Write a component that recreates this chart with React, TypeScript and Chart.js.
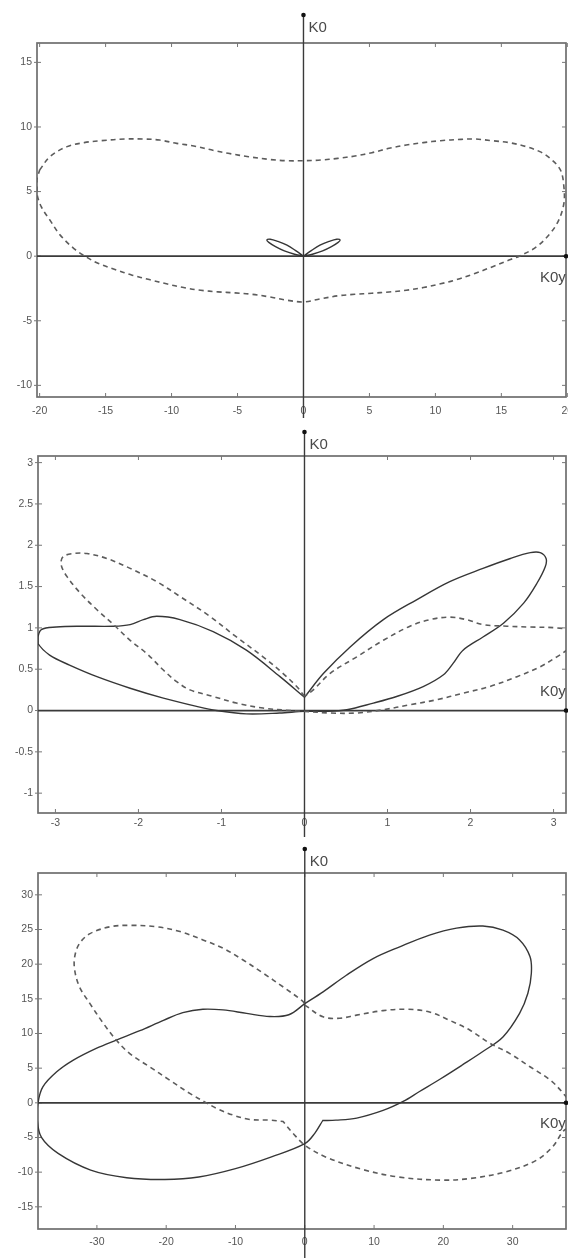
import React, { useEffect, useRef } from "react";
import { Chart, registerables } from "chart.js";

Chart.register(...registerables);

// ---------------- Panel 1 data ----------------
const P1_X_TICKS = [-20, -15, -10, -5, 0, 5, 10, 15, 20];
const P1_Y_TICKS = [-10, -5, 0, 5, 10, 15];
const P1_DASHED: [number, number][] = [
  [-20.0, 6.67], [-19.22, 7.7], [-17.92, 8.48], [-16.62, 8.79], [-15.32, 8.94], [-13.51, 9.07],
  [-12.21, 9.07], [-10.91, 8.99], [-9.61, 8.73], [-8.31, 8.53], [-6.75, 8.17], [-5.71, 7.96],
  [-4.16, 7.7], [-2.6, 7.49], [-1.3, 7.39], [0, 7.39], [1.3, 7.44], [2.6, 7.57], [3.9, 7.75],
  [5.19, 8.01], [6.49, 8.35], [7.79, 8.6], [9.09, 8.79], [10.39, 8.94], [11.95, 9.04],
  [12.99, 9.07], [14.29, 8.94], [15.58, 8.79], [16.88, 8.48], [17.92, 8.09], [18.7, 7.57],
  [19.48, 6.67], [19.74, 5.37], [19.74, 4.08], [19.35, 2.79], [18.7, 1.76], [17.66, 0.72],
  [16.36, 0], [15.58, -0.3], [14.29, -0.83], [12.99, -1.34], [11.69, -1.79], [10.39, -2.14],
  [9.09, -2.43], [7.79, -2.64], [6.49, -2.77], [5.19, -2.87], [3.9, -2.95], [2.6, -3.07],
  [1.3, -3.3], [0, -3.54], [-1.3, -3.4], [-2.6, -3.15], [-3.9, -2.95], [-5.19, -2.84],
  [-6.49, -2.76], [-7.79, -2.64], [-9.09, -2.43], [-10.39, -2.14], [-11.69, -1.81],
  [-12.99, -1.47], [-14.29, -1.03], [-15.58, -0.55], [-16.49, -0.05], [-17.4, 0.59],
  [-18.44, 1.63], [-19.22, 2.79], [-19.87, 3.82], [-20.21, 4.86], [-20.21, 5.89], [-20.0, 6.67],
];
const P1_SOLID: [number, number][] = [
  [0, 0], [0, 0], [-0.62, 0.45], [-1.25, 0.85], [-1.94, 1.14], [-2.52, 1.31], [-2.78, 1.25],
  [-2.63, 1.07], [-2.12, 0.74], [-1.45, 0.41], [-0.74, 0.17], [0, 0], [0, 0], [0.74, 0.17],
  [1.45, 0.41], [2.12, 0.74], [2.63, 1.07], [2.78, 1.25], [2.52, 1.31], [1.94, 1.14],
  [1.25, 0.85], [0.62, 0.45], [0, 0], [0, 0],
];

// ---------------- Panel 2 data ----------------
const P2_X_TICKS = [-3, -2, -1, 0, 1, 2, 3];
const P2_Y_TICKS = [-1, -0.5, 0, 0.5, 1, 1.5, 2, 2.5, 3];
const P2_SOLID: [number, number][] = [
  [0, 0.16], [0, 0.16], [0.23, 0.45], [0.55, 0.77], [0.95, 1.1], [1.35, 1.34], [1.75, 1.56],
  [2.15, 1.72], [2.48, 1.84], [2.72, 1.91], [2.84, 1.91], [2.91, 1.84], [2.9, 1.74],
  [2.8, 1.54], [2.64, 1.3], [2.4, 1.06], [2.15, 0.89], [1.91, 0.73], [1.79, 0.57],
  [1.67, 0.43], [1.43, 0.29], [1.11, 0.17], [0.83, 0.09], [0.51, 0.01], [0.23, -0.01],
  [0, -0.01], [-0.3, -0.03], [-0.7, -0.04], [-1.06, 0], [-1.3, 0.05], [-1.7, 0.15],
  [-2.1, 0.27], [-2.5, 0.41], [-2.83, 0.55], [-3.07, 0.67], [-3.21, 0.81], [-3.21, 0.89],
  [-3.17, 0.98], [-2.99, 1.01], [-2.7, 1.02], [-2.3, 1.02], [-2.1, 1.04], [-1.94, 1.1],
  [-1.78, 1.14], [-1.5, 1.1], [-1.1, 0.955], [-0.7, 0.73], [-0.295, 0.41], [0, 0.16], [0, 0.16],
];
const P2_DASHED: [number, number][] = [
  [0, 0.17], [0, 0.17], [-0.094, 0.29], [-0.26, 0.45], [-0.5, 0.65], [-0.82, 0.89],
  [-1.14, 1.14], [-1.5, 1.38], [-1.78, 1.56], [-2.1, 1.72], [-2.38, 1.84], [-2.62, 1.9],
  [-2.78, 1.9], [-2.91, 1.86], [-2.93, 1.76], [-2.86, 1.62], [-2.7, 1.42], [-2.5, 1.22],
  [-2.3, 1.04], [-2.1, 0.85], [-1.9, 0.69], [-1.7, 0.49], [-1.54, 0.35], [-1.38, 0.25],
  [-1.1, 0.17], [-0.82, 0.09], [-0.5, 0.03], [-0.17, 0.0], [0, -0.01], [0.31, -0.03],
  [0.63, -0.03], [0.95, 0.01], [1.27, 0.07], [1.59, 0.13], [1.91, 0.21], [2.23, 0.29],
  [2.56, 0.41], [2.84, 0.53], [3.04, 0.65], [3.16, 0.73], [3.3, 0.85], [3.3, 0.95],
  [3.04, 1.0], [2.72, 1.01], [2.44, 1.02], [2.15, 1.04], [1.95, 1.1], [1.75, 1.13],
  [1.51, 1.1], [1.27, 1.02], [0.95, 0.85], [0.63, 0.65], [0.31, 0.45], [0.106, 0.25],
  [0, 0.17], [0, 0.17],
];

// ---------------- Panel 3 data ----------------
const P3_X_TICKS = [-30, -20, -10, 0, 10, 20, 30];
const P3_Y_TICKS = [-15, -10, -5, 0, 5, 10, 15, 20, 25, 30];
const P3_SOLID: [number, number][] = [
  [0, 14.3], [2.64, 16.0], [6.0, 18.4], [9.86, 20.8], [13.7, 22.5], [18.0, 24.2],
  [21.9, 25.2], [25.7, 25.5], [28.6, 24.9], [31.0, 23.5], [32.5, 21.1], [32.7, 18.7],
  [32.2, 15.8], [31.0, 12.9], [28.6, 9.5], [25.7, 7.4], [22.8, 5.5], [19.5, 3.4],
  [16.5, 1.6], [14.2, 0.2], [11.3, -1.1], [7.5, -2.2], [4.5, -2.5], [2.6, -2.55],
  [2.6, -2.55], [1.44, -4.4], [0, -5.9], [-4.8, -7.8], [-10.0, -9.5], [-15.3, -10.7],
  [-20.2, -11.05], [-25.7, -10.8], [-30.9, -9.7], [-35.6, -7.3], [-38.0, -5.0],
  [-38.6, -2.5], [-38.5, 0], [-37.8, 2.3], [-35.8, 4.47], [-33.4, 6.16],
  [-30.1, 7.85], [-27.2, 9.05], [-23.8, 10.4], [-20.4, 11.9], [-17.6, 13.0], [-14.7, 13.5],
  [-11.8, 13.4], [-8.4, 12.9], [-5.05, 12.45], [-2.3, 12.7], [0, 14.3],
];
const P3_DASHED: [number, number][] = [
  [0, 14.1], [2.64, 12.4], [5.05, 12.2], [7.46, 12.65], [11.3, 13.3], [14.7, 13.5],
  [18.0, 13.1], [20.9, 11.9], [23.8, 10.5], [26.7, 8.6], [29.6, 7.1], [32.5, 5.2],
  [35.4, 3.3], [37.3, 1.36], [39.0, -1.0], [39.0, -3.5], [37.5, -3.9], [35.8, -6.3],
  [33.4, -8.3], [29.2, -9.9], [24.0, -10.9], [19.8, -11.15], [13.5, -10.7], [8.3, -9.6],
  [3.0, -7.8], [0, -6.1], [-1.69, -4.4], [-3.13, -2.7], [-3.13, -2.7], [-5.05, -2.5],
  [-7.94, -2.4], [-10.35, -1.77], [-12.7, -0.81], [-14.2, 0], [-16.6, 1.36], [-19.5, 3.28],
  [-22.4, 5.2], [-25.3, 7.13], [-27.2, 9.05], [-29.1, 11.5], [-31.0, 14.3], [-32.5, 16.7],
  [-33.2, 19.1], [-33.2, 21.1], [-32.5, 23.0], [-31.0, 24.4], [-28.1, 25.4], [-25.3, 25.6],
  [-21.4, 25.4], [-18.0, 24.7], [-14.7, 23.5], [-11.8, 22.3], [-8.9, 20.6], [-6.0, 18.7],
  [-3.1, 16.7], [-0.24, 14.6], [0, 14.1],
];

// ---------------- Panel layout / axis config ----------------
const PANELS = [
  {
    top: 0, height: 425, padTop: 43, yAxisW: 37, xAxisH: 28,
    xMin: -20.2, xMax: 19.9, yMin: -10.9, yMax: 16.5,
    xTicks: P1_X_TICKS, yTicks: P1_Y_TICKS, dashed: P1_DASHED, solid: P1_SOLID,
    dotY: 15, lineBottom: 418, k0yOff: 22, xLabelPad: 8,
  },
  {
    top: 425, height: 415, padTop: 31, yAxisW: 38, xAxisH: 27,
    xMin: -3.21, xMax: 3.15, yMin: -1.24, yMax: 3.08,
    xTicks: P2_X_TICKS, yTicks: P2_Y_TICKS, dashed: P2_DASHED, solid: P2_SOLID,
    dotY: 7, lineBottom: 412, k0yOff: -19, xLabelPad: 4,
  },
  {
    top: 840, height: 418, padTop: 33, yAxisW: 38, xAxisH: 29,
    xMin: -38.5, xMax: 37.7, yMin: -18.2, yMax: 33.15,
    xTicks: P3_X_TICKS, yTicks: P3_Y_TICKS, dashed: P3_DASHED, solid: P3_SOLID,
    dotY: 9, lineBottom: 418, k0yOff: 21, xLabelPad: 7,
  },
];

type PanelCfg = (typeof PANELS)[number];

function makeDecor(cfg: PanelCfg) {
  return {
    id: "decor",
    beforeDatasetsDraw(chart: any) {
      const { ctx, chartArea: a, scales } = chart;
      const xs = scales.x, ys = scales.y;
      const line = (x1: number, y1: number, x2: number, y2: number) => {
        ctx.beginPath();
        ctx.moveTo(x1, y1);
        ctx.lineTo(x2, y2);
        ctx.stroke();
      };
      ctx.save();
      ctx.strokeStyle = "#6e6e6e";
      ctx.lineWidth = 1.7;
      ctx.strokeRect(a.left, a.top, a.right - a.left, a.bottom - a.top);
      ctx.lineWidth = 1;
      ctx.strokeStyle = "#777";
      for (const v of cfg.xTicks) {
        const px = xs.getPixelForValue(v);
        line(px, a.bottom, px, a.bottom - 4);
        line(px, a.top, px, a.top + 4);
      }
      for (const v of cfg.yTicks) {
        const py = ys.getPixelForValue(v);
        line(a.left - 3, py, a.left + 4, py);
        line(a.right, py, a.right - 4, py);
      }
      const x0 = xs.getPixelForValue(0);
      const y0 = ys.getPixelForValue(0);
      ctx.strokeStyle = "#3a3a3a";
      ctx.lineWidth = 1.7;
      line(a.left, y0, a.right, y0);
      ctx.lineWidth = 1.4;
      line(x0, cfg.dotY, x0, cfg.lineBottom);
      ctx.restore();
    },
    afterDraw(chart: any) {
      const { ctx, chartArea: a, scales } = chart;
      const x0 = scales.x.getPixelForValue(0);
      const y0 = scales.y.getPixelForValue(0);
      ctx.save();
      ctx.fillStyle = "#111";
      ctx.beginPath();
      ctx.arc(x0, cfg.dotY, 2.3, 0, Math.PI * 2);
      ctx.fill();
      ctx.beginPath();
      ctx.arc(a.right, y0, 2.3, 0, Math.PI * 2);
      ctx.fill();
      ctx.fillStyle = "#4a4a4a";
      ctx.font = "15px 'Liberation Sans', Arial, sans-serif";
      ctx.textBaseline = "middle";
      ctx.textAlign = "left";
      ctx.fillText("K0", x0 + 5, cfg.dotY + 13);
      ctx.fillText("K0y", 540, y0 + cfg.k0yOff);
      ctx.restore();
    },
  };
}

function Panel({ cfg }: { cfg: PanelCfg }) {
  const ref = useRef<HTMLCanvasElement | null>(null);
  useEffect(() => {
    if (!ref.current) return;
    const tickFont = { family: "'Liberation Sans', Arial, sans-serif", size: 10.5 };
    const chart = new Chart(ref.current, {
      type: "scatter",
      data: {
        datasets: [
          {
            data: cfg.dashed.map(([x, y]) => ({ x, y })),
            showLine: true,
            borderColor: "#5c5c5c",
            borderWidth: 1.6,
            borderDash: [5, 4],
            pointRadius: 0,
            tension: 0.35,
            fill: false,
          },
          {
            data: cfg.solid.map(([x, y]) => ({ x, y })),
            showLine: true,
            borderColor: "#363636",
            borderWidth: 1.4,
            pointRadius: 0,
            tension: 0.35,
            fill: false,
          },
        ],
      },
      options: {
        animation: false,
        responsive: false,
        devicePixelRatio: 1,
        events: [],
        layout: { padding: { top: cfg.padTop, right: 2, left: 0, bottom: 0 }, autoPadding: false },
        plugins: { legend: { display: false }, tooltip: { enabled: false } },
        scales: {
          x: {
            type: "linear",
            min: cfg.xMin,
            max: cfg.xMax,
            grid: { display: false, drawTicks: false },
            border: { display: false },
            ticks: {
              padding: cfg.xLabelPad,
              font: tickFont,
              color: "#555",
              maxRotation: 0,
              minRotation: 0,
              autoSkip: false,
              callback: (v: any) => String(v),
            },
            afterBuildTicks: (s: any) => {
              s.ticks = cfg.xTicks.map((v) => ({ value: v }));
            },
            afterFit: (s: any) => {
              s.height = cfg.xAxisH;
              s.paddingLeft = 0;
              s.paddingRight = 0;
            },
          },
          y: {
            type: "linear",
            min: cfg.yMin,
            max: cfg.yMax,
            grid: { display: false, drawTicks: false },
            border: { display: false },
            ticks: {
              padding: 5,
              font: tickFont,
              color: "#555",
              autoSkip: false,
              callback: (v: any) => String(v),
            },
            afterBuildTicks: (s: any) => {
              s.ticks = cfg.yTicks.map((v) => ({ value: v }));
            },
            afterFit: (s: any) => {
              s.width = cfg.yAxisW;
              s.paddingTop = 0;
              s.paddingBottom = 0;
            },
          },
        },
      } as any,
      plugins: [makeDecor(cfg)],
    });
    return () => chart.destroy();
  }, [cfg]);
  return (
    <canvas
      ref={ref}
      width={568}
      height={cfg.height}
      style={{ position: "absolute", left: 0, top: cfg.top, width: 568, height: cfg.height, display: "block" }}
    />
  );
}

export default function App() {
  return (
    <div style={{ position: "absolute", left: 0, top: 0, width: 568, height: 1258, background: "#fff", overflow: "hidden" }}>
      {PANELS.map((cfg, i) => (
        <Panel key={i} cfg={cfg} />
      ))}
    </div>
  );
}
